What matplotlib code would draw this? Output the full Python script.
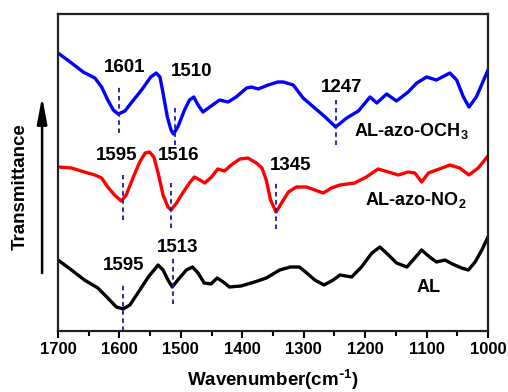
import matplotlib
matplotlib.use("Agg")
import matplotlib.pyplot as plt

plt.rcParams['font.family'] = ['Liberation Sans', 'DejaVu Sans']
plt.rcParams['font.weight'] = 'bold'
plt.rcParams['mathtext.default'] = 'regular'

# ---- data (arbitrary transmittance units, offset spectra) ----
wn_och3 = [1700, 1678, 1659, 1640, 1629, 1619, 1610, 1602, 1591, 1581, 1564, 1549,
           1540, 1534, 1529, 1522, 1516, 1512, 1505, 1494, 1486, 1479, 1472, 1464,
           1453, 1437, 1423, 1410, 1393, 1385, 1374, 1358, 1342, 1333, 1317, 1301,
           1284, 1265, 1248, 1230, 1211, 1192, 1181, 1165, 1149, 1130, 1116, 1100,
           1084, 1062, 1051, 1040, 1031, 1019, 1000]
t_och3 = [278, 268, 259, 253, 244, 231, 221, 217, 220, 228, 241, 254,
          258, 254, 238, 214, 201, 197, 204, 221, 231, 234, 226, 219,
          224, 231, 229, 234, 243, 244, 242, 246, 249, 249, 246, 233,
          224, 214, 204, 213, 220, 234, 228, 237, 230, 239, 248, 254,
          251, 258, 251, 234, 224, 234, 261]

wn_no2 = [1700, 1678, 1657, 1640, 1629, 1619, 1608, 1597, 1589, 1578, 1567, 1558,
          1551, 1544, 1537, 1529, 1521, 1516, 1507, 1497, 1486, 1478, 1469, 1461,
          1450, 1440, 1429, 1418, 1404, 1391, 1377, 1368, 1361, 1354, 1345, 1336,
          1325, 1312, 1295, 1282, 1268, 1255, 1241, 1217, 1198, 1179, 1162, 1146,
          1130, 1119, 1108, 1097, 1084, 1062, 1046, 1031, 1016, 1000]
t_no2 = [164, 163, 159, 156, 153, 144, 136, 130, 136, 153, 169, 178,
         179, 174, 158, 136, 124, 121, 128, 138, 148, 154, 151, 148,
         154, 162, 160, 166, 172, 173, 168, 163, 151, 131, 119, 128,
         139, 144, 144, 141, 138, 143, 146, 148, 154, 162, 159, 156,
         159, 158, 149, 158, 161, 166, 163, 156, 163, 175]

wn_al = [1700, 1678, 1657, 1635, 1619, 1605, 1594, 1583, 1570, 1553, 1537, 1529,
         1521, 1514, 1505, 1491, 1481, 1472, 1462, 1451, 1441, 1431, 1421, 1402,
         1380, 1361, 1339, 1322, 1307, 1295, 1282, 1267, 1252, 1241, 1222, 1206,
         1189, 1176, 1162, 1149, 1132, 1122, 1108, 1095, 1084, 1070, 1058, 1043,
         1032, 1021, 1010, 1000]
t_al = [71, 61, 51, 43, 33, 24, 22, 26, 38, 54, 66, 61,
        51, 44, 51, 61, 64, 58, 48, 47, 53, 49, 44, 45,
        49, 53, 61, 64, 64, 58, 51, 46, 51, 56, 54, 64,
        78, 84, 76, 68, 64, 71, 81, 74, 69, 71, 67, 63,
        61, 69, 81, 94]

# peak markers: (wavenumber, y_top, y_bottom)
peaks_och3 = [(1601, 244, 198), (1510, 224, 186), (1247, 231, 186)]
peaks_no2 = [(1595, 156, 111), (1516, 148, 103), (1345, 148, 102)]
peaks_al = [(1595, 46, 0), (1513, 73, 27)]

# peak labels: (text, x, y)
labels_peaks = [("1601", 1592, 263), ("1510", 1482, 259), ("1247", 1238, 244),
                ("1595", 1604, 176), ("1516", 1503, 176), ("1345", 1322, 165),
                ("1513", 1506, 83), ("1595", 1593, 66)]
labels_curves = [("AL-azo-OCH$_3$", 1125, 200), ("AL-azo-NO$_2$", 1117, 131), ("AL", 1096, 44)]

xticks = [1700, 1600, 1500, 1400, 1300, 1200, 1100, 1000]
minor_ticks = [1650, 1550, 1450, 1350, 1250, 1150, 1050]

fig = plt.figure(figsize=(5.08, 3.92), dpi=100)
ax = fig.add_axes([58/508, 1-331/392, 430/508, 317/392])

for xs, ys, c in ((wn_och3, t_och3, '#0000ff'), (wn_no2, t_no2, '#ff0000'),
                  (wn_al, t_al, 'black')):
    ax.plot(xs, ys, color=c, lw=2.4, solid_joinstyle='round', solid_capstyle='round')

for grp in (peaks_och3, peaks_no2, peaks_al):
    for x, y1, y2 in grp:
        ax.plot([x, x], [y2, y1], color='#1a1aa0', lw=1.3, ls=(0, (2.5, 2)))

for txt, x, y in labels_peaks:
    ax.text(x, y, txt, fontsize=13.5, fontweight='bold', ha='center', va='center')
for txt, x, y in labels_curves:
    ax.text(x, y, txt, fontsize=13, fontweight='bold', ha='center', va='center')

ax.set_xlim(1700, 1000)
ax.set_ylim(0, 317)
ax.set_xticks(xticks)
ax.set_xticks(minor_ticks, minor=True)
ax.set_yticks([])
ax.tick_params(axis='x', which='major', direction='out', length=5, width=1.5,
               labelsize=12, pad=3)
ax.tick_params(axis='x', which='minor', direction='out', length=3.5, width=1.5)
for lab in ax.get_xticklabels():
    lab.set_fontweight('bold')
for sp in ax.spines.values():
    sp.set_linewidth(1.6)
    sp.set_color('#222222')

ax.set_xlabel(r'Wavenumber(cm$^{\text{-}1}$)', fontsize=13.5, fontweight='bold', labelpad=8)

ax.text(-0.088, 0.457, 'Transmittance', transform=ax.transAxes, rotation=90,
        fontsize=13.5, fontweight='bold', ha='center', va='center')
ax.annotate('', xy=(-0.037, 0.748), xytext=(-0.037, 0.174),
            xycoords='axes fraction', textcoords='axes fraction',
            arrowprops=dict(arrowstyle='-|>,head_length=1.6,head_width=0.3',
                            color='black', lw=1.8),
            annotation_clip=False)

fig.savefig('out.png', dpi=100)
